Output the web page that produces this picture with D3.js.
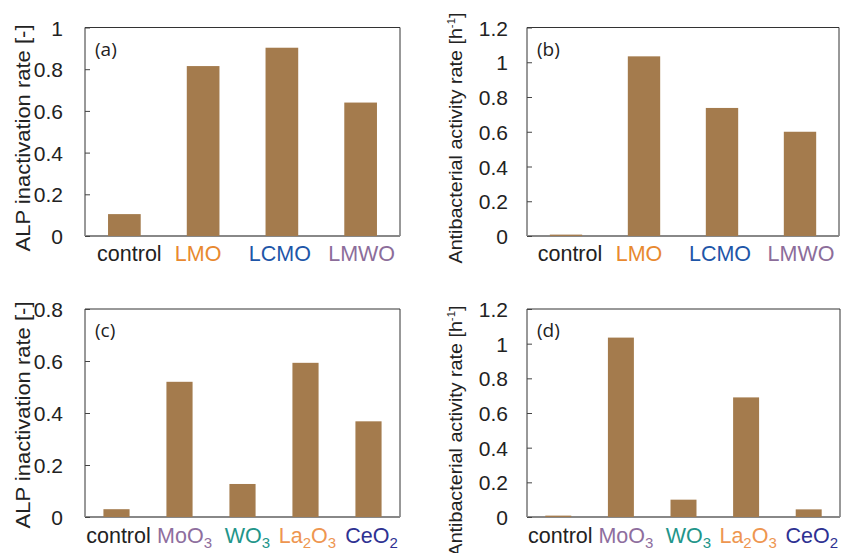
<!DOCTYPE html>
<html>
<head>
<meta charset="utf-8">
<script src="https://cdn.jsdelivr.net/npm/d3@7"></script>
<style>
  html, body { margin: 0; padding: 0; background: #fff; }
  svg { display: block; }
</style>
</head>
<body>
<svg id="chart" width="842" height="553"></svg>
<script>
// Category names (subscript digits marked with "_")
const catsComposite = ["control", "LMO", "LCMO", "LMWO"];
const catsOxide = ["control", "MoO_3", "WO_3", "La_2O_3", "CeO_2"];

// Label colours per category
const colorsComposite = ["#222222", "#E8892F", "#1E56A8", "#8C6D9A"];
const colorsOxide = ["#222222", "#8E6E9E", "#22958A", "#EE9650", "#2E3192"];

// Series values
const alpComposite = [0.105, 0.815, 0.903, 0.64];
const antiComposite = [0.008, 1.034, 0.737, 0.60];
const alpOxide = [0.03, 0.52, 0.127, 0.593, 0.368];
const antiOxide = [0.008, 1.035, 0.10, 0.69, 0.044];

// Axis ticks
const ticksA = [0, 0.2, 0.4, 0.6, 0.8, 1];
const ticksB = [0, 0.2, 0.4, 0.6, 0.8, 1, 1.2];
const ticksC = [0, 0.2, 0.4, 0.6, 0.8];
const ticksD = [0, 0.2, 0.4, 0.6, 0.8, 1, 1.2];

const titleALP = "ALP inactivation rate [-]";
const titleAnti = "Antibacterial activity rate [h";

const svg = d3.select("#chart");
const BAR = "#A47B4D";

// Writes a label, lowering digits marked with "_" as subscripts
function addLabel(sel, text) {
  const parts = text.split(/(_\d)/).filter(s => s.length);
  let pending = 0;
  parts.forEach(p => {
    if (p.startsWith("_")) {
      sel.append("tspan").attr("font-size", 15).attr("dy", 5 + pending).text(p.slice(1));
      pending = -5;
    } else {
      sel.append("tspan").attr("dy", pending).text(p);
      pending = 0;
    }
  });
}

function panel(o) {
  const g = svg.append("g");
  const x = d3.scaleBand().domain(o.cats).range([o.x0, o.x1]).paddingInner(0.585).paddingOuter(0.2925);
  const y = d3.scaleLinear().domain([0, o.ymax]).range([o.y1, o.y0]);

  // frame (top, left, right)
  g.append("path")
    .attr("d", `M${o.x0},${o.y1}V${o.y0}H${o.x1}V${o.y1}`)
    .attr("fill", "none").attr("stroke", "#333").attr("stroke-width", 1);

  // baseline
  g.append("line")
    .attr("x1", o.x0).attr("x2", o.x1)
    .attr("y1", o.y1).attr("y2", o.y1)
    .attr("stroke", "#888").attr("stroke-width", 2);

  // bars
  g.selectAll("rect.bar").data(o.values).join("rect")
    .attr("class", "bar")
    .attr("x", (d, i) => x(o.cats[i]))
    .attr("width", x.bandwidth())
    .attr("y", d => y(d))
    .attr("height", d => y(0) - y(d))
    .attr("fill", BAR);

  // left axis: inward ticks, labels outside
  const yAxis = d3.axisRight(y).tickValues(o.ticks).tickSize(5).tickFormat(d3.format("~g"));
  const ya = g.append("g").attr("transform", `translate(${o.x0},0)`).call(yAxis);
  ya.select(".domain").remove();
  ya.selectAll(".tick line").attr("stroke", "#444");
  ya.selectAll(".tick text")
    .attr("x", -(o.tickGap))
    .attr("text-anchor", "end")
    .attr("font-family", "Liberation Sans, Arial, sans-serif")
    .attr("font-size", 21)
    .attr("fill", "#222")
    .attr("dy", "0.36em");

  // category labels
  o.cats.forEach((c, i) => {
    const t = g.append("text")
      .attr("x", x(c) + x.bandwidth() / 2 + (o.labelShift ? o.labelShift[i] : 0))
      .attr("y", o.labelY)
      .attr("text-anchor", "middle")
      .attr("font-family", "Liberation Sans, Arial, sans-serif")
      .attr("font-size", 21.5)
      .attr("fill", o.colors[i]);
    addLabel(t, c);
  });

  // panel tag
  g.append("text")
    .attr("x", o.x0 + 10).attr("y", o.y0 + 28)
    .attr("font-family", "Open Sans, Lato, sans-serif")
    .attr("font-size", 19)
    .attr("fill", "#222")
    .text(o.tag);

  // y title
  const tt = g.append("text")
    .attr("transform", `translate(${o.titleX},${o.titleY}) rotate(-90)`)
    .attr("text-anchor", "middle")
    .attr("font-family", "Liberation Sans, Arial, sans-serif")
    .attr("font-size", o.titleSize)
    .attr("fill", "#222")
    .attr("textLength", o.titleLen)
    .attr("lengthAdjust", "spacingAndGlyphs");
  if (o.sup) {
    tt.append("tspan").text(o.title);
    tt.append("tspan").attr("font-size", 11).attr("dy", -7).text("-1");
    tt.append("tspan").attr("dy", 7).text("]");
  } else {
    tt.text(o.title);
  }
}

panel({ cats: catsComposite, colors: colorsComposite, values: alpComposite, ticks: ticksA, ymax: 1,
  x0: 85, x1: 400, y0: 27.5, y1: 236, tickGap: 22, labelY: 261, tag: "(a)",
  labelShift: [5, -5, -2, 1],
  title: titleALP, titleX: 30, titleY: 138, titleSize: 21, titleLen: 227, sup: false });

panel({ cats: catsComposite, colors: colorsComposite, values: antiComposite, ticks: ticksB, ymax: 1.2,
  x0: 527, x1: 839, y0: 27.5, y1: 236, tickGap: 19, labelY: 261, tag: "(b)",
  labelShift: [4, -5, -2, 1],
  title: titleAnti, titleX: 462, titleY: 138, titleSize: 19, titleLen: 251, sup: true });

panel({ cats: catsOxide, colors: colorsOxide, values: alpOxide, ticks: ticksC, ymax: 0.8,
  x0: 85, x1: 400, y0: 309, y1: 517, tickGap: 22, labelY: 543, tag: "(c)",
  labelShift: [2, 5, 5, 2, 3],
  title: titleALP, titleX: 30, titleY: 415, titleSize: 21, titleLen: 227, sup: false });

panel({ cats: catsOxide, colors: colorsOxide, values: antiOxide, ticks: ticksD, ymax: 1.2,
  x0: 527, x1: 840, y0: 309, y1: 517, tickGap: 19, labelY: 543, tag: "(d)",
  labelShift: [2, 5, 5, 2, 3],
  title: titleAnti, titleX: 462, titleY: 431, titleSize: 19, titleLen: 251, sup: true });
</script>
</body>
</html>
